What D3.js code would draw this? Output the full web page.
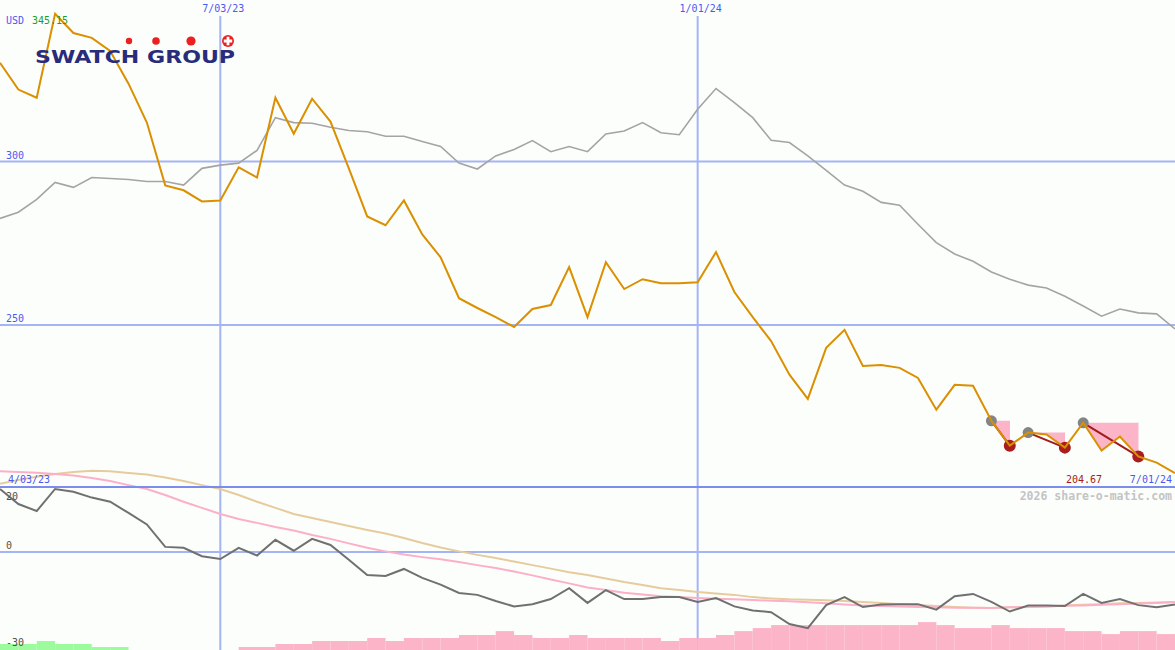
<!DOCTYPE html>
<html>
<head>
<meta charset="utf-8">
<script src="https://cdn.jsdelivr.net/npm/d3@7"></script>
<style>
  html, body { margin: 0; padding: 0; background: #fcfefc; }
  svg { display: block; }
  text { font-family: "DejaVu Sans Mono", monospace; }
</style>
</head>
<body>
<script>
// weekly closes, first week 10 Apr 2023
var startDate = new Date(2023, 3, 10);
var weekCount = 65;
var dates = d3.range(weekCount).map(function(i){ return d3.timeDay.offset(startDate, i * 7); });

var price = [330.2, 322.0, 319.5, 345.15, 339.3, 337.8, 333.8, 323.8, 311.9, 292.7,
             291.2, 287.8, 288.1, 298.2, 295.1, 319.5, 308.5, 319.2, 312.2, 297.9,
             283.2, 280.5, 288.1, 277.7, 270.7, 258.2, 255.2, 252.4, 249.4, 254.9,
             256.1, 267.7, 252.4, 269.2, 261.0, 264.0, 262.8, 262.8, 263.1, 272.3,
             260.1, 252.4, 245.1, 234.8, 227.4, 243.0, 248.5, 237.5, 237.8, 236.9,
             233.8, 224.1, 231.7, 231.4, 220.7, 213.1, 217.1, 216.5, 212.5, 220.1,
             211.6, 215.9, 209.8, 207.9, 204.67];

var compare = [282.6, 284.5, 288.4, 293.6, 292.1, 295.1, 294.8, 294.5, 293.9, 293.9,
               292.8, 297.9, 298.9, 299.5, 303.4, 313.4, 311.9, 311.7, 310.5, 309.5,
               309.1, 307.7, 307.7, 306.1, 304.6, 299.5, 297.7, 301.7, 303.7, 306.4,
               303.0, 304.6, 303.0, 308.4, 309.3, 311.9, 308.8, 308.2, 316.0, 322.3,
               318.0, 313.4, 306.5, 305.8, 301.7, 297.3, 292.8, 290.9, 287.5, 286.6,
               280.8, 275.2, 271.7, 269.5, 266.2, 264.0, 262.2, 261.3, 258.8, 255.8,
               252.7, 254.9, 253.7, 253.4, 248.8];

var momentum = [19.7, 15.0, 12.8, 19.7, 18.8, 17.0, 15.7, 12.2, 8.6, 1.6,
                1.3, -1.3, -2.2, 1.3, -1.1, 3.8, 0.4, 4.1, 2.2, -2.4,
                -7.2, -7.5, -5.3, -8.1, -10.2, -12.8, -13.4, -15.3, -17.0, -16.3,
                -14.7, -11.3, -15.9, -11.9, -14.7, -14.7, -14.1, -14.1, -15.6, -14.4,
                -17.0, -18.3, -18.8, -22.5, -23.8, -16.6, -14.1, -17.2, -16.4, -16.3,
                -16.3, -18.0, -13.8, -13.1, -15.6, -18.6, -16.7, -16.7, -16.9, -13.1,
                -15.9, -14.7, -16.6, -17.3, -16.4];

var avgFast = [25.2, 25.0, 24.8, 24.4, 23.9, 23.1, 22.2, 20.9, 19.7, 17.8,
               15.7, 13.8, 11.9, 10.3, 9.1, 7.8, 6.7, 5.3, 4.1, 2.7,
               1.3, 0.2, -0.8, -1.6, -2.3, -3.1, -4.1, -5.0, -6.1, -7.3,
               -8.6, -9.8, -11.1, -11.9, -12.7, -13.3, -13.8, -14.1, -14.4, -14.6,
               -14.8, -15.0, -15.2, -15.4, -15.7, -16.0, -16.4, -16.7, -16.9, -17.0,
               -17.2, -17.3, -17.4, -17.4, -17.5, -17.3, -17.2, -17.0, -16.8, -16.7,
               -16.5, -16.3, -16.1, -15.9, -15.6];

var avgSlow = [21.3, 22.5, 23.5, 24.4, 25.0, 25.4, 25.2, 24.7, 24.2, 23.3,
               22.2, 20.9, 19.7, 17.8, 15.7, 13.8, 11.9, 10.6, 9.4, 8.1,
               6.9, 5.8, 4.4, 2.8, 1.4, 0.2, -0.9, -1.9, -3.0, -4.1,
               -5.2, -6.3, -7.2, -8.3, -9.4, -10.3, -11.3, -11.9, -12.5, -13.0,
               -13.4, -14.1, -14.5, -14.8, -14.9, -15.1, -15.3, -15.6, -15.9, -16.3,
               -16.6, -16.9, -17.2, -17.4, -17.5, -17.3, -17.2, -17.0, -16.7, -16.5,
               -16.3, -16.0, -15.9, -15.8, -15.6];

// one bar per week (between point i and i+1); positive green, negative pink
var bars = [2, 2, 3, 2, 2, 1, 1, 0, 0, 0, 0, 0, 0, -1, -1, -2, -2, -3, -3, -3,
            -4, -3, -4, -4, -4, -5, -5, -6.3, -5, -4, -4, -5, -4, -4, -4, -4, -3, -4, -4, -5,
            -6.3, -7.3, -8.3, -8.3, -8.3, -8.3, -8.3, -8.3, -8.3, -8.3, -9.3, -8.3, -7.3, -7.3,
            -8.3, -7.3, -7.3, -7.3, -6.3, -6.3, -5.3, -6.3, -6.3, -5.3];

var signalHighs = [54, 56, 59];
var signalLows = [55, 58, 62];

var priceTicks = [300, 250];
var lowerTicks = [20, 0, -30];
var dateTicks = [new Date(2023, 6, 3), new Date(2024, 0, 1)];
var fmtDate = function(d){ return (d.getMonth() + 1) + '/' + d3.timeFormat('%d/%y')(d); };

var W = 1175, H = 650;
var svg = d3.select('body').append('svg').attr('width', W).attr('height', H);
svg.append('rect').attr('width', W).attr('height', H).attr('fill', '#fcfefc');

var x = d3.scaleTime().domain([dates[0], dates[weekCount - 1]]).range([0, W]);
var yPrice = d3.scaleLinear().domain([250, 300]).range([325, 161.5]);
var yLow = d3.scaleLinear().domain([0, 20]).range([552, 488]);
var barH = d3.scaleLinear().domain([0, 10]).range([0, 30]);

var grid = '#a4b4f4';

// horizontal grid (price)
svg.selectAll('line.pgrid').data(priceTicks).enter().append('line')
    .attr('x1', 0).attr('x2', W)
    .attr('y1', function(d){ return yPrice(d); }).attr('y2', function(d){ return yPrice(d); })
    .attr('stroke', grid).attr('stroke-width', 2);
svg.selectAll('text.plab').data(priceTicks).enter().append('text')
    .attr('x', 6).attr('y', function(d){ return yPrice(d) - 3; })
    .attr('font-size', 10).attr('fill', '#4a5af0').text(function(d){ return d; });

// lower zero line
svg.append('line').attr('x1', 0).attr('x2', W).attr('y1', yLow(0)).attr('y2', yLow(0))
    .attr('stroke', grid).attr('stroke-width', 2);

// vertical date lines
svg.selectAll('line.vgrid').data(dateTicks).enter().append('line')
    .attr('x1', function(d){ return x(d); }).attr('x2', function(d){ return x(d); })
    .attr('y1', 16).attr('y2', H)
    .attr('stroke', grid).attr('stroke-width', 2);
svg.selectAll('text.dlab').data(dateTicks).enter().append('text')
    .attr('x', function(d){ return x(d) + 3; }).attr('y', 12)
    .attr('text-anchor', 'middle').attr('font-size', 10).attr('fill', '#4a5af0')
    .text(fmtDate);

// bars
svg.selectAll('rect.bar').data(bars).enter().append('rect')
    .attr('x', function(d, i){ return x(dates[i]); })
    .attr('width', function(d, i){ return x(dates[i + 1]) - x(dates[i]); })
    .attr('y', function(d){ return H - barH(Math.abs(d)); })
    .attr('height', function(d){ return barH(Math.abs(d)); })
    .attr('fill', function(d){ return d > 0 ? '#9cfb9c' : '#fbb4c8'; });

// lower panel lines
var lowLine = function(arr){
    return d3.line().x(function(d, i){ return x(dates[i]); }).y(function(d){ return yLow(d); })(arr);
};
svg.append('path').attr('d', lowLine(avgSlow)).attr('fill', 'none').attr('stroke', '#e6cc9c').attr('stroke-width', 2);
svg.append('path').attr('d', lowLine(avgFast)).attr('fill', 'none').attr('stroke', '#fcb0c8').attr('stroke-width', 2);
svg.append('path').attr('d', lowLine(momentum)).attr('fill', 'none').attr('stroke', '#707070').attr('stroke-width', 2);

// panel border
svg.append('line').attr('x1', 0).attr('x2', W).attr('y1', 487).attr('y2', 487)
    .attr('stroke', '#7c8cec').attr('stroke-width', 2);

svg.selectAll('text.llab').data(lowerTicks).enter().append('text')
    .attr('x', 6)
    .attr('y', function(d, i){ return [500, 549, 646][i]; })
    .attr('font-size', 10).attr('fill', '#505050').text(function(d){ return d; });

// top panel: comparison line
var priceLine = d3.line().x(function(d, i){ return x(dates[i]); }).y(function(d){ return yPrice(d); });
svg.append('path').attr('d', priceLine(compare)).attr('fill', 'none').attr('stroke', '#a4a4a4').attr('stroke-width', 1.6);

// signal areas
signalHighs.forEach(function(a, k){
    var b = signalLows[k];
    var idx = d3.range(a, b + 1);
    var area = d3.area()
        .x(function(i){ return x(dates[i]); })
        .y0(yPrice(price[a]))
        .y1(function(i){ return yPrice(price[i]); });
    svg.append('path').attr('d', area(idx)).attr('fill', '#fcb4c8');
    svg.append('rect')
        .attr('x', x(dates[b]) - 1).attr('width', 1)
        .attr('y', yPrice(price[a])).attr('height', yPrice(price[b]) - yPrice(price[a]))
        .attr('fill', '#fcb4c8');
});
signalHighs.forEach(function(a, k){
    var b = signalLows[k];
    svg.append('line')
        .attr('x1', x(dates[a])).attr('y1', yPrice(price[a]))
        .attr('x2', x(dates[b])).attr('y2', yPrice(price[b]))
        .attr('stroke', '#a01c1c').attr('stroke-width', 2);
});
svg.selectAll('circle.hi').data(signalHighs).enter().append('circle')
    .attr('cx', function(i){ return x(dates[i]); }).attr('cy', function(i){ return yPrice(price[i]); })
    .attr('r', 5.5).attr('fill', '#848484');
svg.selectAll('circle.lo').data(signalLows).enter().append('circle')
    .attr('cx', function(i){ return x(dates[i]); }).attr('cy', function(i){ return yPrice(price[i]); })
    .attr('r', 6).attr('fill', '#a81e1e');

// price line
svg.append('path').attr('d', priceLine(price)).attr('fill', 'none').attr('stroke', '#da9000').attr('stroke-width', 2);

// labels
svg.append('text').attr('x', 6).attr('y', 24).attr('font-size', 10).attr('fill', '#4a5af0').text('USD');
svg.append('text').attr('x', 32).attr('y', 24).attr('font-size', 10).attr('fill', '#20a020').text(d3.max(price).toFixed(2));
svg.append('text').attr('x', 8).attr('y', 483).attr('font-size', 10).attr('fill', '#4a5af0').text('4/03/23');
svg.append('text').attr('x', 1172).attr('y', 483).attr('text-anchor', 'end').attr('font-size', 10).attr('fill', '#4a5af0')
    .text(fmtDate(dates[weekCount - 1]));
svg.append('text').attr('x', 1102).attr('y', 483).attr('text-anchor', 'end').attr('font-size', 10).attr('fill', '#a01c1c')
    .text(price[weekCount - 1].toFixed(2));
svg.append('text').attr('x', 1172).attr('y', 500).attr('text-anchor', 'end').attr('font-size', 11.5)
    .attr('font-weight', 'bold').attr('fill', '#c4c4c4').text('2026 share-o-matic.com');

// logo
var logo = svg.append('g');
logo.append('text').attr('x', 35).attr('y', 63)
    .attr('textLength', 200).attr('lengthAdjust', 'spacingAndGlyphs')
    .style('font-family', '"DejaVu Sans", sans-serif').attr('font-weight', 'bold')
    .attr('font-size', 18.5).attr('fill', '#282c7a').text('SWATCH GROUP');
[[129, 3.2], [156, 3.8], [191, 4.6]].forEach(function(c){
    logo.append('circle').attr('cx', c[0]).attr('cy', 41).attr('r', c[1]).attr('fill', '#ec2020');
});
logo.append('circle').attr('cx', 228).attr('cy', 41).attr('r', 6).attr('fill', '#ec2020');
logo.append('path').attr('d', 'M226.6,36.8h2.8v2.8h2.8v2.8h-2.8v2.8h-2.8v-2.8h-2.8v-2.8h2.8z').attr('fill', '#ffffff');
</script>
</body>
</html>
